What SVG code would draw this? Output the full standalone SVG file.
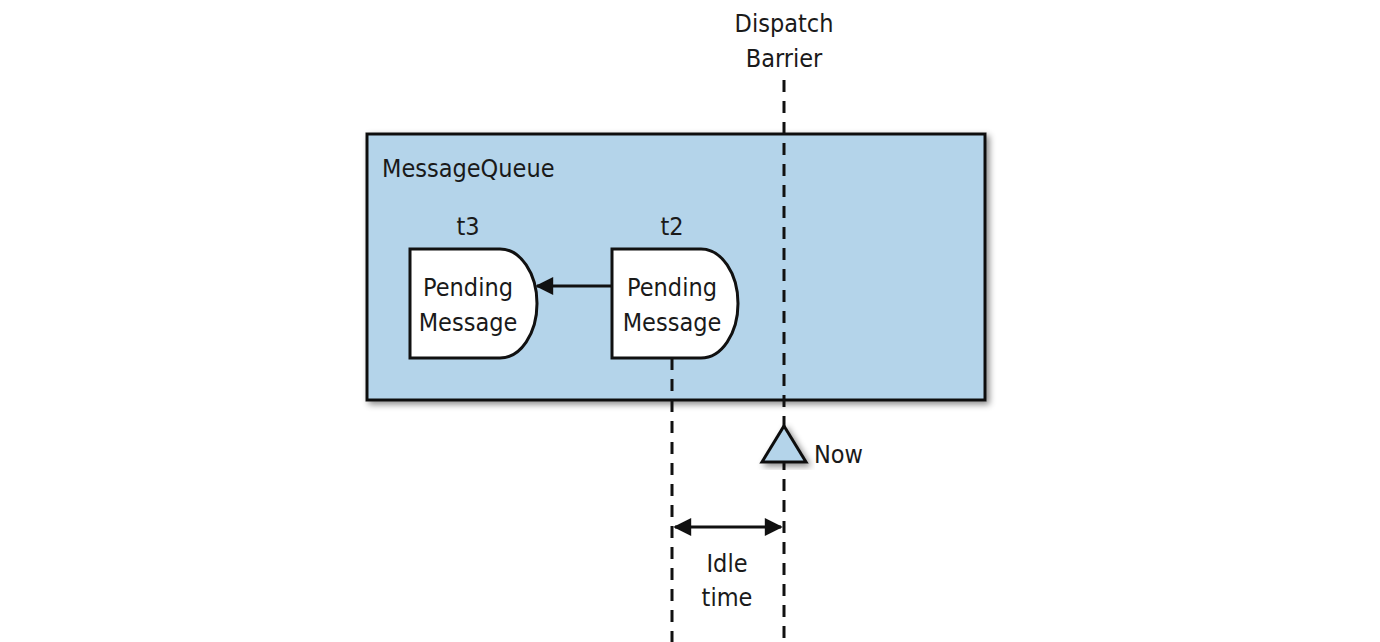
<svg xmlns="http://www.w3.org/2000/svg" width="1380" height="642" viewBox="0 0 1380 642">
<style>
text{font-family:"Liberation Sans Narrow","DejaVu Sans Condensed","Liberation Sans",sans-serif;font-size:25px;fill:#1a1a1a;text-anchor:middle}
.box{fill:#b4d4ea;stroke:#111;stroke-width:3}
.node{fill:#fff;stroke:#111;stroke-width:3}
.dash{stroke:#111;stroke-width:3;stroke-dasharray:12 9;fill:none}
.line{stroke:#111;stroke-width:3;fill:none}
</style>
<defs>
<filter id="sh" x="-10%" y="-10%" width="130%" height="130%">
<feDropShadow dx="3" dy="3" stdDeviation="3" flood-color="#000" flood-opacity="0.45"/>
</filter>
<marker id="ah" viewBox="0 0 10 10" refX="9" refY="5" markerWidth="6.5" markerHeight="6" orient="auto-start-reverse" markerUnits="strokeWidth">
<path d="M0,0 L10,5 L0,10 z" fill="#111"/>
</marker>
</defs>
<g id="queue">
<rect class="box" x="367" y="134" width="618" height="266" filter="url(#sh)"/>
<text x="382" y="177" style="text-anchor:start">MessageQueue</text>
</g>
<g id="connectors">
<line class="dash" x1="784" y1="80" x2="784" y2="642"/>
<line class="dash" x1="672" y1="358" x2="672" y2="642"/>
<line class="line" x1="612" y1="286" x2="537" y2="286" marker-end="url(#ah)"/>
<line class="line" x1="675" y1="527" x2="781" y2="527" marker-start="url(#ah)" marker-end="url(#ah)"/>
</g>
<g id="t3">
<text x="468" y="235">t3</text>
<path class="node" d="M410,249 H500 A37,54.5 0 0 1 500,358 H410 Z"/>
<text x="468" y="296">Pending</text>
<text x="468" y="331">Message</text>
</g>
<g id="t2">
<text x="672" y="235">t2</text>
<path class="node" d="M612,249 H701 A37,54.5 0 0 1 701,358 H612 Z"/>
<text x="672" y="296">Pending</text>
<text x="672" y="331">Message</text>
</g>
<g id="barrier">
<text x="784" y="32">Dispatch</text>
<text x="784" y="67">Barrier</text>
</g>
<g id="now">
<path d="M784,426 L806,462 L762,462 Z" fill="#b4d4ea" stroke="#111" stroke-width="3" stroke-linejoin="miter" filter="url(#sh)"/>
<text x="814" y="463" style="text-anchor:start">Now</text>
</g>
<g id="idle">
<text x="727" y="572">Idle</text>
<text x="727" y="606">time</text>
</g>
</svg>
